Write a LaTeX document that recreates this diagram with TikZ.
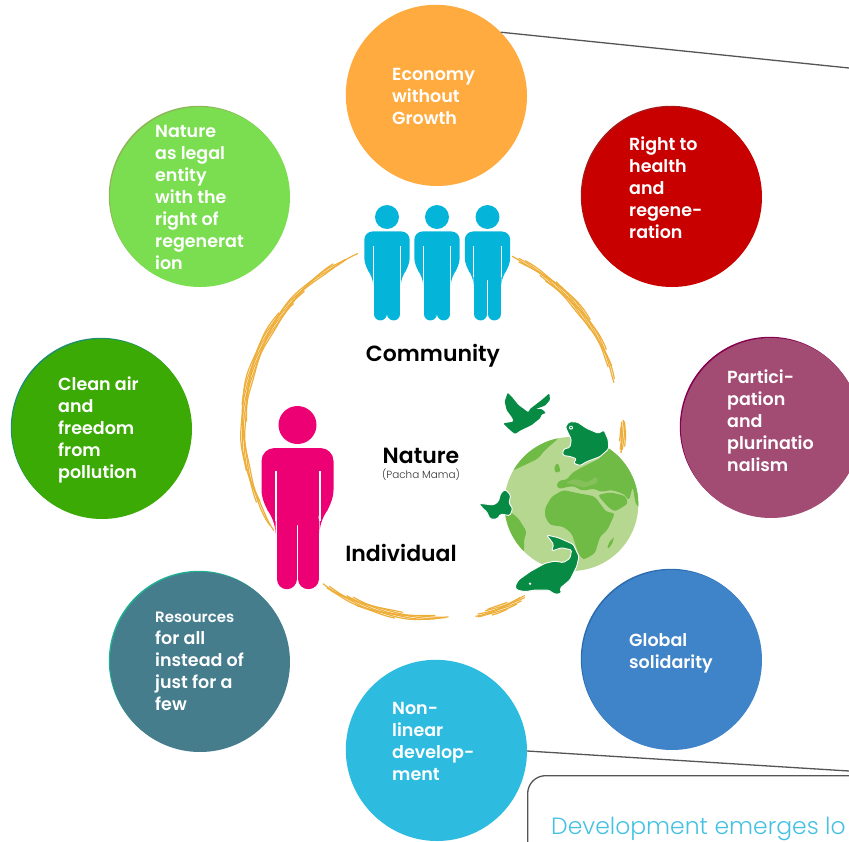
\documentclass[tikz,border=0pt]{standalone}
\usepackage{fontspec}
\setmainfont[BoldFont={Poppins SemiBold}]{Poppins}
\newfontfamily\lightfont{Poppins Light}
\definecolor{ringorange}{HTML}{EEAE3A}
\definecolor{globelight}{HTML}{B5D78F}
\definecolor{globedark}{HTML}{70BA46}
\definecolor{globemid}{HTML}{85C05A}
\definecolor{animalgreen}{HTML}{078A44}
\definecolor{peopleblue}{HTML}{05B5D9}
\definecolor{peoplepink}{HTML}{EC0074}
\definecolor{linegray}{HTML}{555555}
\definecolor{devcyan}{HTML}{45C1E2}
\definecolor{econcol}{HTML}{FFAB40}
\definecolor{healthcol}{HTML}{C80000}
\definecolor{healthrim}{HTML}{A81818}
\definecolor{particcol}{HTML}{A24C74}
\definecolor{particrim}{HTML}{85004F}
\definecolor{solidcol}{HTML}{3F84C8}
\definecolor{solidrim}{HTML}{2C6DB0}
\definecolor{nonlincol}{HTML}{2DBBE0}
\definecolor{rescol}{HTML}{457D8D}
\definecolor{resrim}{HTML}{1FB094}
\definecolor{aircol}{HTML}{3BAA04}
\definecolor{airrim}{HTML}{1F8F70}
\definecolor{legalcol}{HTML}{7ADE50}
\definecolor{legalrim}{HTML}{8FB558}
% one standing figure: x, y of the head, scale, colour
\newcommand{\person}[4]{%
\begin{scope}[shift={(#1,#2)},scale=#3,fill=#4]
\fill (0,0) circle[radius=19];
\fill[rounded corners=#3*13pt] (-36,23) -- (36,23) -- (36,78) -- (22,95) -- (22,100) -- (-22,100) -- (-22,95) -- (-36,78) -- cycle;
\draw[#4,line width=#3*20.4pt,line cap=round] (-10.8,95) -- (-10.8,154);
\draw[#4,line width=#3*20.4pt,line cap=round] (10.8,95) -- (10.8,154);
\draw[white,line width=#3*2pt] (-22,46) -- (-22,96);
\draw[white,line width=#3*2pt] (22,46) -- (22,96);
\end{scope}}
\begin{document}
\begin{tikzpicture}[x=1pt,y=-1pt,
% common options for the coloured discs:
disc/.style 2 args = {circle, minimum size=180pt, inner sep=0, fill=#1,
            preaction={fill=#2, transform canvas={shift={(-1.2pt,1.2pt)}}}},
% common options for the texts:
disctext/.style = {align=left, anchor=west, inner sep=0, yshift=-.3pt, text=white, font=\fontsize{17.5}{22}\selectfont\bfseries},
headtext/.style = {anchor=center, inner sep=0, font=\fontsize{22}{26}\selectfont\bfseries},
animal/.style = {fill=animalgreen, draw=white, line width=.9pt, line join=round, rounded corners=1.5pt},
connector/.style = {draw=linegray, line width=1.3pt}]
\clip (0,0) rectangle (849,841);
% brush ring: high angle / low angle / radius
\foreach \ahi/\alo/\rr in {65/14/189, 2.4/-7.5/191, 113/213/189, 235/275/190, 283/299/193}{
  \foreach \dr/\f/\g in {-3/.35/.25, -2/.1/.2, -1/0/.05, 0/.02/0, 1/.1/.04, 2/.2/.08, 3/.4/.3}{
    \pgfmathsetmacro{\afrom}{\alo+\f*(\ahi-\alo)}
    \pgfmathsetmacro{\ato}{\ahi-\g*(\ahi-\alo)}
    \draw[ringorange,line width=1.2pt] plot[domain=\afrom:\ato,samples=45,smooth]
      ({432+(\rr+\dr+.6*sin(\x*23+\dr*90))*cos(\x)},{428-(\rr+\dr+.6*sin(\x*23+\dr*90))*sin(\x)});
  }
}
% discs
\node[disc={econcol}{econcol}] (econ) at (437,96) {};
\node[disc={healthcol}{healthrim}] (health) at (672,197) {};
\node[disc={particcol}{particrim}] (partic) at (771,428) {};
\node[disc={solidcol}{solidrim}] (solid) at (672,660) {};
\node[disc={nonlincol}{nonlincol}] (nonlin) at (437,751) {};
\node[disc={rescol}{resrim}] (res) at (200,662) {};
\node[disc={aircol}{airrim}] (air) at (102,429) {};
\node[disc={legalcol}{legalrim}] (legal) at (200,197) {};
\node[disctext] (econtxt) at (392,96) {Economy\\without\\Growth};
\node[disctext] (healthtxt) at (629,187) {Right to\\health\\and\\regene-\\ration};
\node[disctext] (partictxt) at (727,420) {Partici-\\pation\\and\\plurinatio\\nalism};
\node[disctext] (solidtxt) at (629,653) {Global\\solidarity};
\node[disctext] (nonlintxt) at (392,741) {Non-\\linear\\develop-\\ment};
\node[disctext] (restxt) at (155,661) {\fontsize{15}{22}\selectfont Resources\\for all\\instead of\\just for a\\few};
\node[disctext] (airtxt) at (58,430) {Clean air\\and\\freedom\\from\\pollution};
\node[disctext] (legaltxt) at (155,197) {Nature\\as legal\\entity\\with the\\right of\\regenerat\\ion};
% connectors and the box
\coordinate (econend) at (849,68);
\coordinate (nonlinend) at (849,771);
\draw[connector] (econ.45) -- (econend);
\draw[connector] (nonlin.0) -- (nonlinend);
\node[draw=linegray,line width=1.3pt,rounded corners=18pt,minimum width=420pt,minimum height=200pt,anchor=north west] (devbox) at (527,775) {};
\node[anchor=base west,inner sep=0,text=devcyan,font=\lightfont\fontsize{23.5}{27}\selectfont] (devtxt) at (551,834) {Development emerges lo};
% figures
\foreach \px in {387,437,487.5}{\person{\px}{217}{.63}{peopleblue}}
\person{297.5}{425}{1}{peoplepink}
\node[headtext] (community) at (433,356) {Community};
\node[headtext] (nature) at (421,456) {Nature};
\node[anchor=center,inner sep=0,text=black!80,font=\lightfont\fontsize{10.4}{12}\selectfont] (pacha) at (421,475) {(Pacha Mama)};
\node[headtext] (individual) at (401,553) {Individual};
% globe
\begin{scope}[shift={(500,430)},scale=.3333]
\fill[globelight] (214,222) circle[radius=201];
\clip (214,222) circle[radius=201];
\fill[globedark,rounded corners=3pt] (20,130) -- (60,85) -- (120,40) -- (180,15) -- (170,30) -- (135,60) -- (115,85) -- (85,100) -- cycle;
\fill[globedark,rounded corners=2pt] (163,105) -- (175,100) -- (182,125) -- (165,128) -- cycle;
\fill[globedark,rounded corners=3pt] (168,165) -- (180,150) -- (200,150) -- (215,130) -- (240,115) -- (300,85) -- (325,50) -- (380,90) -- (430,190) -- (430,240) -- (408,225) -- (398,170) -- (387,212) -- (372,192) -- (335,180) -- (300,186) -- (285,176) -- (245,182) -- (222,168) -- (195,172) -- (178,178) -- cycle;
\fill[globemid,rounded corners=3pt] (195,158) -- (225,146) -- (262,158) -- (290,138) -- (294,158) -- (250,174) -- (222,164) -- cycle;
\fill[globedark,rounded corners=3pt] (135,235) -- (155,200) -- (190,180) -- (235,190) -- (265,195) -- (285,200) -- (318,245) -- (345,250) -- (322,300) -- (300,320) -- (285,370) -- (250,390) -- (235,370) -- (215,310) -- (190,290) -- (150,285) -- (135,260) -- cycle;
\fill[globedark,rounded corners=3pt] (293,195) -- (330,187) -- (375,197) -- (385,220) -- (345,245) -- (325,232) -- cycle;
\fill[globedark,rounded corners=2pt] (343,320) -- (335,345) -- (322,358) -- (325,340) -- cycle;
\fill[globedark,rounded corners=3pt] (0,235) -- (30,245) -- (55,265) -- (80,305) -- (72,330) -- (72,368) -- (40,370) -- (0,300) -- cycle;
\end{scope}
% bird
\begin{scope}[shift={(470,385)},scale=.3333]
\fill[animalgreen,rounded corners=1pt] (113,23) -- (125,35) -- (145,60) -- (175,82) -- (180,72) -- (215,45) -- (238,25) -- (240,45) -- (225,62) -- (197,72) -- (215,72) -- (228,84) -- (215,88) -- (210,100) -- (185,120) -- (150,137) -- (135,147) -- (120,135) -- (100,115) -- (130,110) -- (128,100) -- (110,75) -- (104,50) -- cycle;
\end{scope}
% frog and butterfly
\begin{scope}[shift={(470,380)},scale=.3333]
\draw[animal] (286,140) -- (298,125) -- (322,126) -- (350,145) -- (385,160) -- (402,150) -- (415,180) -- (416,207) -- (390,230) -- (350,245) -- (330,257) -- (310,249) -- (320,237) -- (303,230) -- (278,226) -- (280,208) -- (300,202) -- (304,178) -- (295,160) -- cycle;
\fill[white] (303,143) circle[radius=6];
\fill[animalgreen] (303,143) circle[radius=3];
\draw[animal] (26,370) -- (70,375) -- (85,365) -- (92,340) -- (105,328) -- (122,345) -- (117,370) -- (128,385) -- (120,407) -- (92,402) -- (82,417) -- (60,417) -- (50,395) -- (40,387) -- cycle;
\end{scope}
% fish
\begin{scope}[shift={(505,525)},scale=.3333]
\draw[animal] (125,30) -- (160,38) -- (205,58) -- (222,95) -- (215,125) -- (195,165) -- (165,190) -- (170,205) -- (150,208) -- (130,195) -- (90,195) -- (60,200) -- (35,195) -- (30,185) -- (40,165) -- (75,140) -- (120,115) -- (150,108) -- (175,113) -- (195,100) -- (200,75) -- (170,68) -- (140,78) -- (146,58) -- cycle;
\fill[white] (75,176) circle[radius=4];
\end{scope}
\end{tikzpicture}
\end{document}
